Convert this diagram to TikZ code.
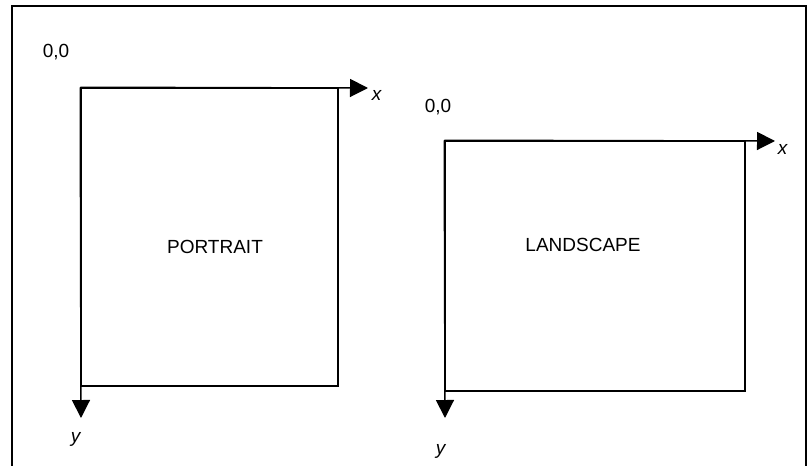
\documentclass[tikz,border=0pt]{standalone}
\usepackage{fontspec}
\setmainfont{Liberation Sans}
\usetikzlibrary{arrows.meta}

\tikzset{
  page/.style={draw, line width=1.5pt, minimum width=#1, inner sep=0pt},
  axis/.style={line width=1.5pt, -{Triangle[length=18pt,width=18pt]}},
  txt/.style={font=\fontsize{19}{22}\selectfont, inner sep=0pt}
}

\begin{document}
\begin{tikzpicture}[x=1pt, y=-1pt]
    \useasboundingbox (0,0) rectangle (809,466);
    \clip (0,0) rectangle (809,466);
    \draw [line width=1.5pt] (12,480) -- (12,6) -- (806,6) -- (806,480);
    \node[page=257pt, minimum height=298pt] (p) at (209.5, 237) {};
    \node[page=300pt, minimum height=250pt] (l) at (595, 266) {};
    \node[txt] (pt) at (215, 247) {PORTRAIT};
    \node[txt] (lt) at (583, 245) {LANDSCAPE};
    \node[txt] (po) at (56, 52) {0,0};
    \node[txt] (lo) at (438, 107) {0,0};
    \coordinate (px) at (368, 88);
    \coordinate (py) at (81, 418);
    \coordinate (lx) at (775, 141);
    \coordinate (ly) at (445, 418);
    \node[txt] (pxl) at (377, 95) {\textit{x}};
    \node[txt] (pyl) at (76, 439) {\textit{y}};
    \node[txt] (lxl) at (783, 149) {\textit{x}};
    \node[txt] (lyl) at (441, 451) {\textit{y}};
    \draw [axis] (p.north west) to (px);
    \draw [axis] (p.north west) to (py);
    \draw [axis] (l.north west) to (lx);
    \draw [axis] (l.north west) to (ly);
  \end{tikzpicture}
\end{document}
